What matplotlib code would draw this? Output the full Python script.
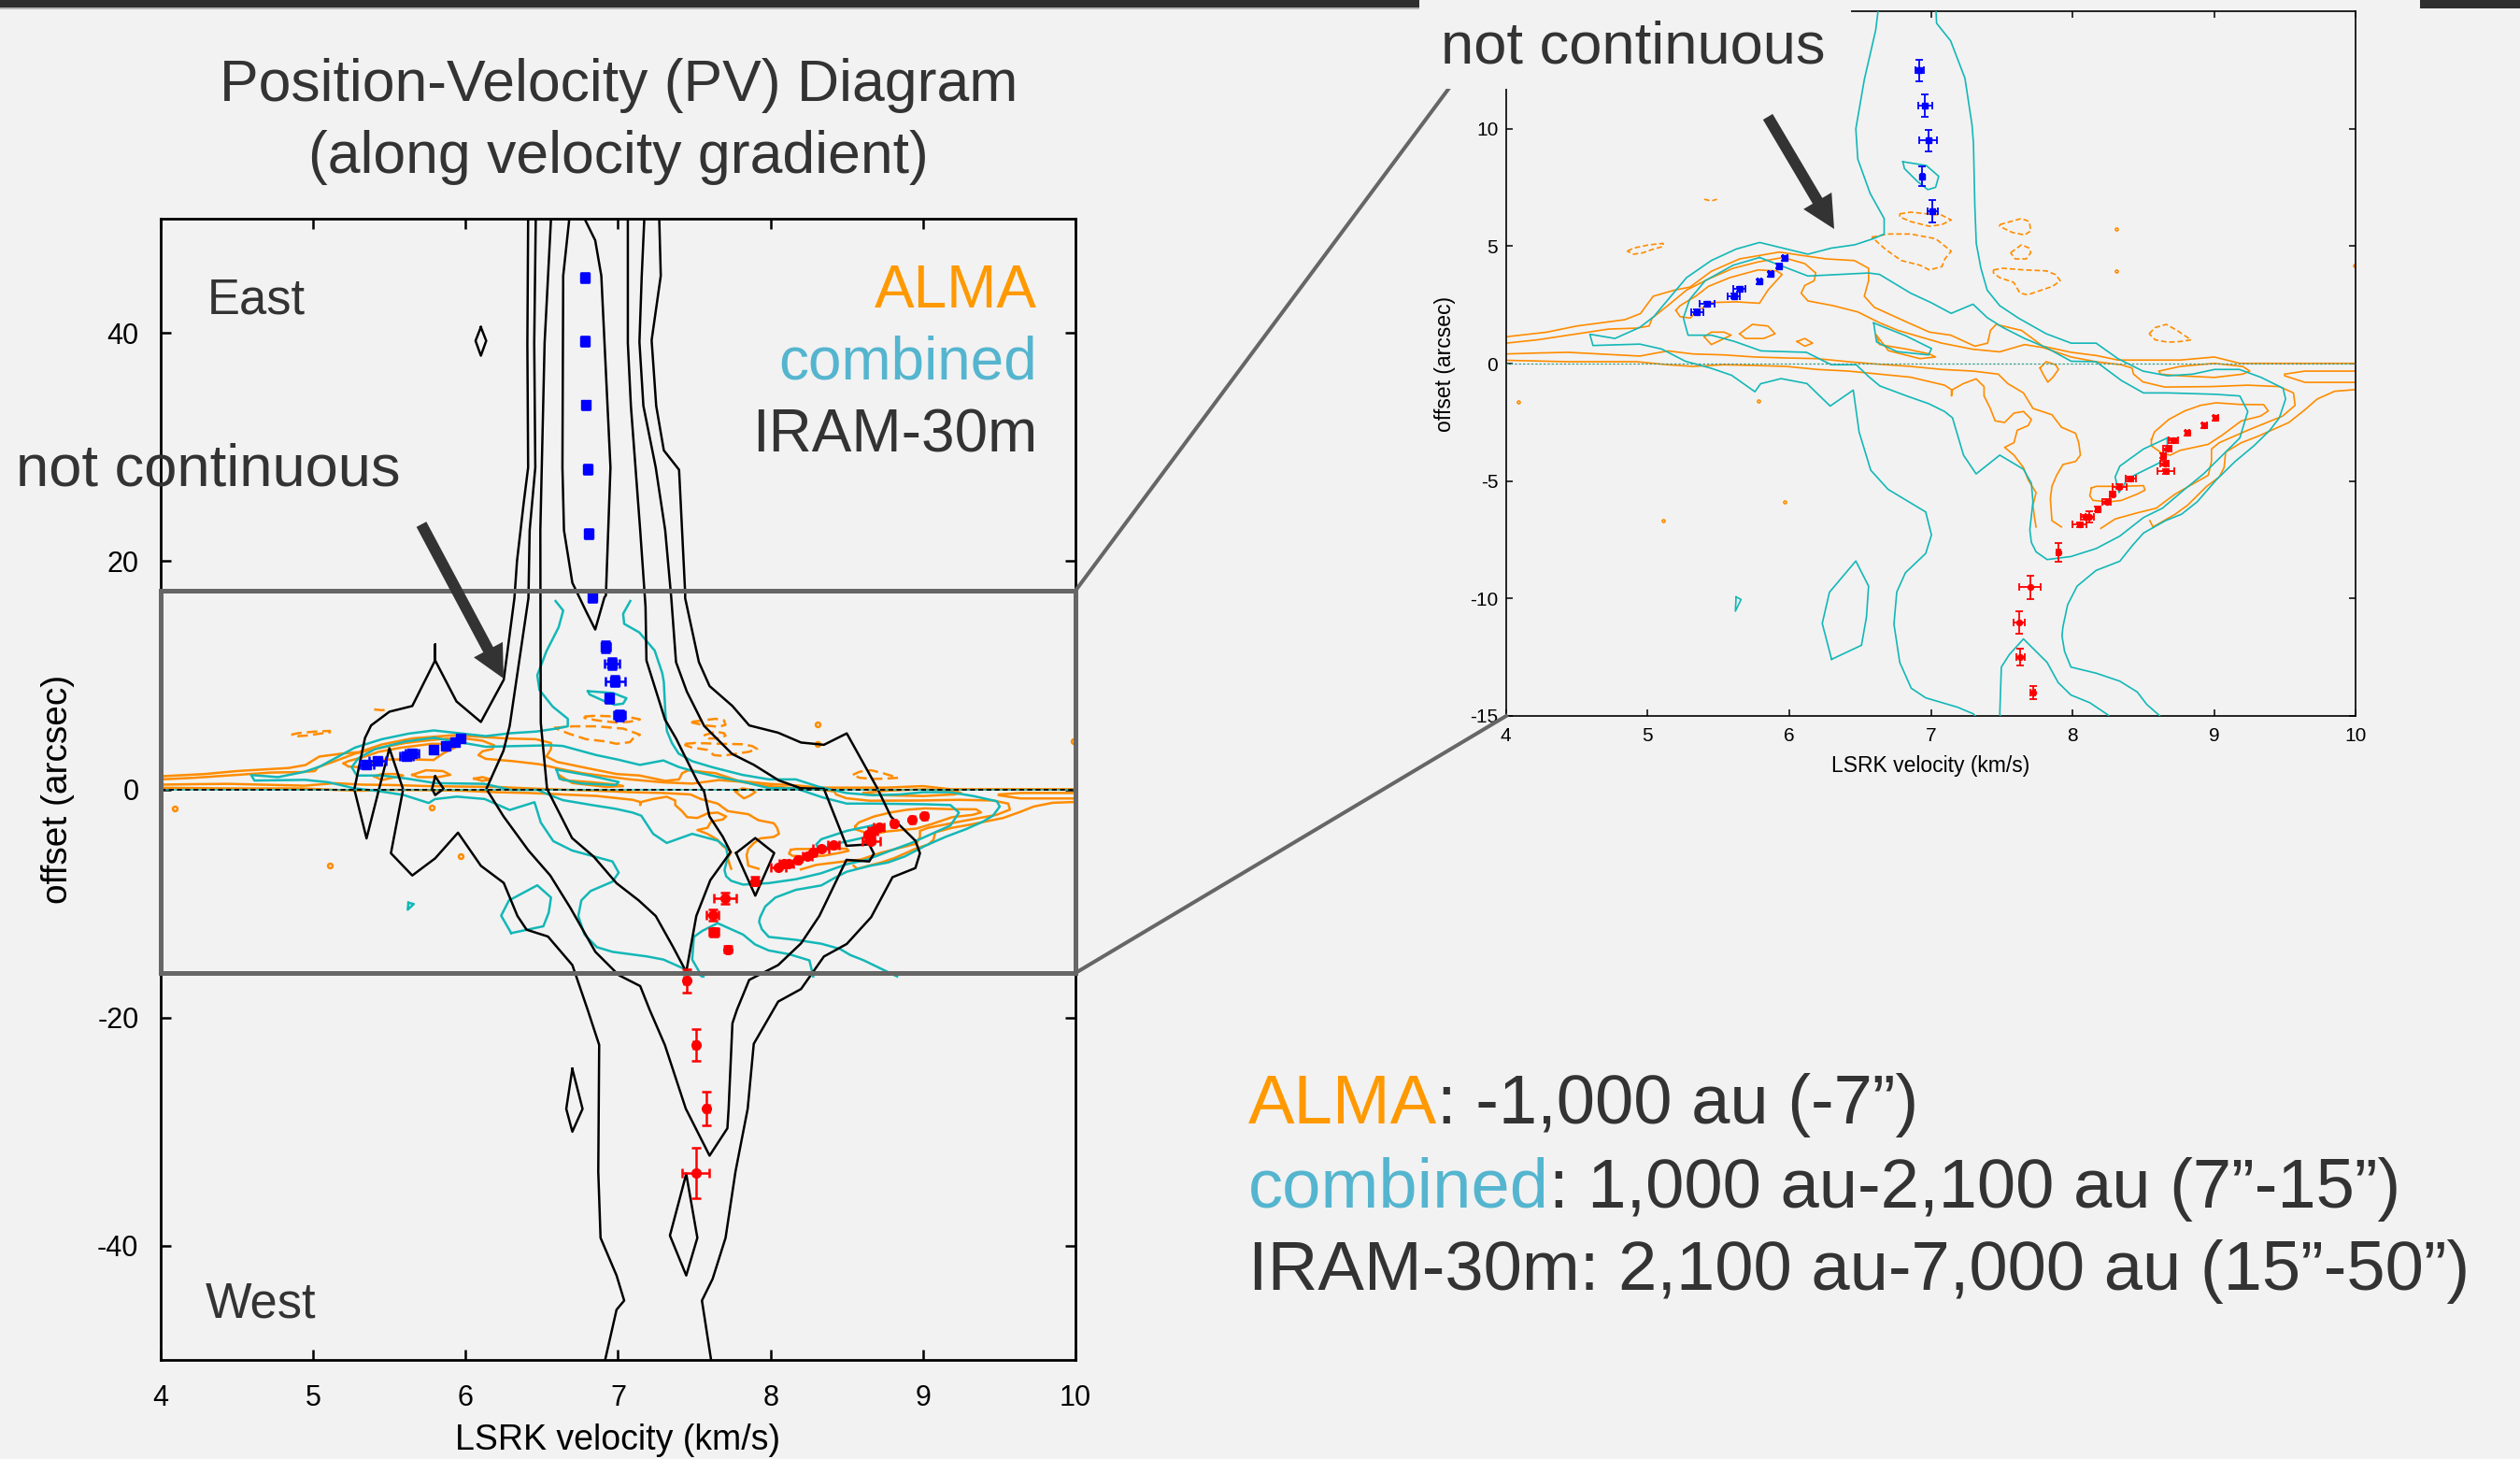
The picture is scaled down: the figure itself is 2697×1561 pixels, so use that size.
import matplotlib
matplotlib.use("Agg")
import matplotlib.pyplot as plt
from matplotlib.patches import Rectangle, FancyArrow
from matplotlib.lines import Line2D
from matplotlib.text import Annotation

plt.rcParams['font.family'] = ['Liberation Sans', 'DejaVu Sans']
plt.rcParams['axes.unicode_minus'] = False

# ---- data, points are (LSRK velocity km/s, offset arcsec) ----

# IRAM-30m contours (black, left panel only)
iram_outer_left = [(6.41, 50), (6.405, 39), (6.41, 28.2), (6.38, 25), (6.337, 20), (6.32, 16.75), (6.25, 9.6),
                   (6.10, 5.9), (5.94, 7.7), (5.80, 11.3), (5.80, 12.7), (5.80, 11.3), (5.65, 7.3), (5.50, 6.8),
                   (5.38, 5.6), (5.34, 4.5), (5.27, 0.0), (5.35, -4.3), (5.50, 3.6), (5.59, 0.0), (5.51, -5.6),
                   (5.65, -7.55), (5.80, -6.05), (5.95, -3.8), (6.10, -6.7), (6.25, -8.2), (6.34, -11.1),
                   (6.40, -12.3), (6.54, -12.9), (6.70, -15.4), (6.80, -19.3), (6.876, -22.4), (6.87, -33.5),
                   (6.885, -39.3), (6.99, -42.6), (7.04, -44.8), (6.99, -45.6), (6.915, -50)]
iram_outer_right = [(7.61, -50), (7.55, -44.8), (7.62, -42.9), (7.705, -39.3), (7.77, -33.5), (7.85, -28.0),
                    (7.89, -22.3), (8.05, -18.6), (8.20, -17.5), (8.35, -14.65), (8.50, -13.55), (8.66, -11.2),
                    (8.80, -7.7), (8.95, -6.9), (8.98, -5.6), (8.95, -4.5), (8.79, -2.4), (8.70, 0.1), (8.50, 4.9),
                    (8.35, 3.9), (8.20, 4.1), (8.05, 4.96), (7.86, 5.6), (7.75, 7.3), (7.60, 9.05), (7.53, 11.15),
                    (7.44, 16.75), (7.44, 17.2), (7.40, 28.0), (7.30, 29.7), (7.25, 33.6), (7.22, 39.35),
                    (7.28, 45), (7.27, 50)]
iram_level2 = [(6.46, 50), (6.45, 39.1), (6.457, 28.2), (6.42, 22.7), (6.412, 16.75), (6.289, 5.56), (6.248, 3.37),
               (6.136, 0.04), (6.248, -2.36), (6.412, -5.36), (6.555, -7.55), (6.688, -10.41), (6.851, -14.24),
               (7.004, -16.28), (7.145, -17.24), (7.206, -19.29), (7.307, -22.41), (7.444, -27.98), (7.60, -32.1),
               (7.717, -29.7), (7.725, -28.0), (7.75, -20.5), (7.78, -19.3), (7.86, -16.7), (8.05, -15.4),
               (8.2, -13.5), (8.32, -11.1), (8.498, -6.18), (8.647, -6.32), (8.678, -5.64), (8.647, -4.82),
               (8.498, -4.95), (8.35, 0.04), (8.197, 0.10), (8.054, 0.78), (7.891, 2.14), (7.748, 3.1),
               (7.564, 5.56), (7.451, 8.56), (7.38, 11.15), (7.349, 16.75), (7.309, 22.7), (7.247, 28.2),
               (7.166, 33.6), (7.14, 39.2), (7.155, 44.95), (7.172, 50)]
iram_level3 = [(6.56, 50), (6.518, 39.1), (6.49, 22.7), (6.491, 15.6), (6.493, 5.83), (6.534, 0.04), (6.698, -4.27),
               (6.841, -5.91), (6.99, -8.23), (7.135, -9.73), (7.247, -11.1), (7.36, -13.8), (7.447, -16.0),
               (7.513, -11.1), (7.605, -7.96), (7.738, -5.5), (7.686, -4.14), (7.599, -2.36), (7.564, -0.18),
               (7.523, 0.64), (7.451, 2.55), (7.38, 4.46), (7.308, 6.1), (7.186, 11.29), (7.18, 16.0),
               (7.145, 22.7), (7.084, 33.6), (7.064, 39.1), (7.064, 50)]
iram_level4 = [(6.68, 50), (6.64, 45), (6.635, 28.2), (6.645, 22.7), (6.70, 18.1), (6.79, 15.6), (6.85, 14.0),
               (6.91, 16.8), (6.92, 17.0), (6.95, 28.2), (6.89, 45), (6.85, 48.1), (6.78, 50)]
iram_islands = [
    [(6.10, 40.5), (6.135, 39.3), (6.10, 38.0), (6.065, 39.3), (6.10, 40.5)],
    [(5.80, 1.13), (5.856, 0.04), (5.80, -0.5), (5.78, 0.04), (5.80, 1.13)],
    [(7.774, -5.58), (7.90, -4.27), (8.024, -5.58), (7.90, -9.32), (7.774, -5.58)],
    [(6.70, -24.5), (6.767, -28.0), (6.70, -30.0), (6.66, -28.0), (6.70, -24.5)],
    [(7.447, -33.7), (7.52, -39.3), (7.447, -42.6), (7.34, -39.1), (7.447, -33.7)],
]
iram_lines = [iram_outer_left, iram_outer_right, iram_level2, iram_level3, iram_level4] + iram_islands

# combined (ALMA + IRAM) contours (teal)
comb_outer_left = [(6.59, 16.5), (6.64, 15.66), (6.61, 14.2), (6.53, 12.1), (6.47, 10.0), (6.484, 8.71),
                   (6.571, 7.25), (6.67, 6.18), (6.67, 5.52), (6.593, 5.32), (6.462, 5.06), (6.297, 4.92),
                   (6.132, 4.66), (5.791, 5.16), (5.626, 4.88), (5.45, 4.39), (5.275, 3.66), (5.165, 2.87),
                   (5.044, 2.0), (4.945, 1.54), (4.77, 1.07), (4.593, 1.25), (4.615, 0.77), (4.945, 0.83),
                   (5.10, 0.62), (5.267, 0.1), (5.45, -0.2), (5.594, -0.5), (5.758, -1.2), (5.798, -0.86),
                   (5.942, -0.64), (6.125, -0.85), (6.289, -1.81), (6.452, -1.13), (6.493, -2.91), (6.575, -4.54),
                   (6.698, -5.36), (6.963, -6.32), (7.004, -7.3), (6.963, -8.09), (6.82, -8.91), (6.759, -9.73),
                   (6.739, -11.1), (6.78, -12.73), (6.861, -13.83), (6.963, -14.24), (7.188, -14.64),
                   (7.298, -14.92), (7.462, -15.9), (7.56, -16.4)]
comb_outer_right = [(7.08, 16.5), (7.033, 15.38), (7.04, 14.5), (7.139, 13.75), (7.24, 12.16), (7.29, 10.17),
                    (7.30, 9.4), (7.31, 6.7), (7.32, 5.12), (7.353, 4.06), (7.397, 3.13), (7.485, 2.47),
                    (7.617, 1.94), (7.814, 1.27), (7.99, 0.87), (8.166, 0.87), (8.32, 0.21), (8.496, -0.32),
                    (8.672, -0.52), (8.847, -0.45), (9.001, -0.25), (9.177, -0.25), (9.331, -0.59), (9.485, -1.05),
                    (9.503, -1.51), (9.459, -2.31), (9.392, -2.84), (9.28, -3.5), (9.147, -4.17), (9.013, -4.96),
                    (8.879, -5.89), (8.768, -6.42), (8.656, -6.69), (8.5, -7.22), (8.422, -7.75), (8.333, -8.42),
                    (8.166, -8.81), (8.032, -9.48), (7.965, -10.27), (7.932, -11.2), (7.925, -11.6),
                    (7.943, -12.26), (7.988, -12.93), (8.166, -13.19), (8.333, -13.53), (8.456, -13.99),
                    (8.523, -14.52), (8.612, -14.99), (8.83, -16.4)]
comb_inner = [(5.791, 4.52), (6.132, 3.73), (6.56, 3.86), (6.637, 3.8), (6.857, 3.0), (7.0, 2.6), (7.143, 2.14),
              (7.297, 2.53), (7.397, 1.96), (7.507, 1.54), (7.661, 1.07), (7.814, 0.68), (7.99, 0.1), (8.166, 0.08),
              (8.344, -0.72), (8.5, -1.25), (8.679, -1.25), (9.013, -1.31), (9.18, -1.38), (9.236, -2.04),
              (9.18, -3.17), (9.058, -3.9), (8.924, -4.7), (8.79, -5.36), (8.634, -6.16), (8.5, -6.56),
              (8.333, -7.35), (8.166, -7.88), (7.988, -8.22), (7.82, -8.35), (7.742, -8.02), (7.709, -7.62),
              (7.698, -7.09), (7.72, -5.89), (7.709, -5.1), (7.653, -4.5), (7.486, -3.9), (7.319, -4.7),
              (7.23, -3.9), (7.152, -2.31), (7.096, -2.04), (6.985, -1.71), (6.829, -1.38), (6.639, -0.95),
              (6.56, -0.55), (6.473, -0.05), (6.297, -0.05), (6.121, 0.48), (5.802, 0.54), (5.615, 0.94),
              (5.451, 1.21), (5.286, 1.21), (5.253, 1.94), (5.297, 2.73), (5.407, 3.53), (5.604, 4.19),
              (5.791, 4.52)]
comb_bottom_cap = [(7.55, -16.4), (7.486, -14.92), (7.497, -12.93), (7.553, -12.4), (7.653, -11.73), (7.82, -12.73),
                   (7.898, -13.59), (7.988, -14.12), (8.122, -14.45), (8.255, -14.99), (8.28, -16.4)]
comb_islands = [
    [(6.299, -12.6), (6.233, -11.07), (6.284, -9.74), (6.47, -8.41), (6.56, -9.48), (6.545, -10.8), (6.51, -12.0),
     (6.299, -12.6)],
    [(6.802, 8.6), (6.967, 8.44), (7.055, 7.98), (7.033, 7.51), (6.978, 7.41), (6.901, 7.78), (6.813, 8.31),
     (6.802, 8.6)],
    [(6.596, 1.73), (6.616, 0.92), (6.76, 0.51), (6.984, 0.37), (7.004, 0.64), (6.82, 1.19), (6.596, 1.73)],
    [(5.625, -9.94), (5.66, -10.05), (5.62, -10.55), (5.625, -9.94)],
    [(8.668, -3.17), (8.5, -3.64), (8.333, -4.37), (8.3, -4.83), (8.327, -5.5), (8.389, -4.9), (8.478, -4.63),
     (8.612, -4.23), (8.668, -3.64), (8.668, -3.17)],
]
comb_lines = [comb_outer_left, comb_outer_right, comb_inner, comb_bottom_cap] + comb_islands

# ALMA contours (orange), positive levels
alma_top = [(4.0, 1.14), (4.29, 1.34), (4.5, 1.6), (4.84, 1.87), (4.95, 2.13), (5.04, 2.87), (5.19, 3.13),
            (5.30, 3.26), (5.45, 3.93), (5.65, 4.46), (5.93, 4.75), (6.11, 4.59), (6.26, 4.46), (6.46, 4.39),
            (6.56, 4.06), (6.56, 3.53), (6.53, 2.87), (6.60, 2.4), (6.84, 1.74), (6.99, 1.34), (7.14, 1.21),
            (7.31, 0.74), (7.40, 0.87), (7.42, 1.41), (7.46, 1.67), (7.64, 1.41), (7.79, 0.74), (7.99, 0.48),
            (8.17, 0.34), (8.32, 0.15), (8.76, 0.15), (9.0, 0.28), (9.18, 0.01), (10.0, 0.01)]
alma_second = [(4.0, 0.87), (4.22, 1.01), (4.44, 1.21), (4.725, 1.47), (4.923, 1.51), (5.011, 1.6), (5.033, 1.94),
               (5.143, 2.47), (5.275, 3.13), (5.429, 3.6), (5.604, 4.06), (5.78, 4.33), (5.956, 4.52),
               (6.11, 4.26), (6.187, 3.86), (6.176, 3.53), (6.11, 3.33), (6.084, 3.0), (6.132, 2.67),
               (6.308, 2.47), (6.484, 2.2), (6.637, 1.74), (6.769, 1.41), (6.923, 1.14), (7.077, 0.87),
               (7.297, 0.61), (7.485, 0.5), (7.661, 0.81), (7.792, 0.68), (7.99, 0.28), (8.166, 0.08),
               (8.342, -0.05), (8.419, -0.19), (8.43, -0.45), (8.496, -0.78), (8.65, -1.0), (8.98, -0.98),
               (9.237, -0.92), (9.459, -0.98), (9.559, -1.25), (9.57, -1.78), (9.481, -2.24), (9.236, -2.84),
               (9.035, -3.37), (8.98, -3.64), (8.98, -4.17), (8.957, -4.76), (8.857, -5.1), (8.723, -5.56),
               (8.59, -6.16), (8.456, -6.36), (8.3, -6.62), (8.199, -7.02)]
alma_mid_upper = [(4.0, 0.41), (4.22, 0.45), (4.44, 0.48), (4.66, 0.41), (4.945, 0.32), (5.143, 0.54),
                  (5.319, 0.41), (5.538, 0.37), (5.758, 0.28), (5.978, 0.24), (6.198, 0.21), (6.418, 0.08),
                  (6.637, -0.03), (6.857, -0.12), (7.077, -0.25), (7.297, -0.32), (7.475, -0.45), (7.542, -0.85),
                  (7.653, -1.25), (7.72, -1.91), (7.854, -2.18), (7.921, -2.71), (8.021, -2.97), (8.043, -3.37),
                  (8.055, -3.9), (8.021, -4.17), (7.932, -4.3), (7.887, -4.76), (7.854, -5.23), (7.843, -5.76),
                  (7.854, -6.69), (7.921, -6.96)]
alma_mid_lower = [(4.0, 0.14), (4.44, 0.08), (4.923, 0.08), (5.143, -0.05), (5.319, -0.12), (5.538, -0.05),
                  (5.758, -0.08), (5.978, -0.12), (6.198, -0.25), (6.418, -0.32), (6.637, -0.45), (6.857, -0.58),
                  (7.096, -0.92), (7.145, -1.11), (7.145, -1.38), (7.152, -1.11), (7.23, -0.85), (7.319, -0.65),
                  (7.375, -0.98), (7.375, -1.38), (7.419, -1.91), (7.453, -2.44), (7.52, -2.51), (7.586, -2.11),
                  (7.653, -2.04), (7.709, -2.38), (7.687, -2.64), (7.609, -2.84), (7.586, -3.37), (7.52, -3.57),
                  (7.586, -3.9), (7.653, -4.43), (7.687, -4.96), (7.742, -5.5), (7.72, -6.03), (7.731, -6.56),
                  (7.742, -6.96)]
alma_red_lobe = [(8.545, -6.69), (8.567, -6.96), (8.723, -6.42), (8.812, -6.03), (8.946, -5.23), (9.035, -4.83),
                 (9.069, -4.43), (9.08, -3.77), (9.191, -3.37), (9.303, -3.11), (9.526, -2.51), (9.637, -1.98),
                 (9.726, -1.51), (9.849, -1.18), (9.994, -1.11), (10.0, -1.11)]
alma_islands = [
    [(5.20, 2.27), (5.23, 2.0), (5.30, 1.94), (5.36, 2.27), (5.45, 2.6), (5.63, 2.63), (5.79, 2.57), (5.85, 3.13),
     (5.95, 3.8), (5.91, 3.95), (5.78, 3.99), (5.58, 3.66), (5.43, 3.29), (5.34, 2.87), (5.23, 2.47), (5.20, 2.27)],
    [(5.40, 1.14), (5.45, 0.81), (5.59, 1.21), (5.54, 1.34), (5.45, 1.34), (5.40, 1.14)],
    [(5.65, 1.27), (5.74, 1.67), (5.85, 1.6), (5.90, 1.27), (5.82, 1.07), (5.69, 1.07), (5.65, 1.27)],
    [(6.055, 0.94), (6.11, 1.07), (6.165, 0.87), (6.11, 0.74), (6.055, 0.94)],
    [(6.615, 1.21), (6.637, 0.81), (6.835, 0.61), (6.989, 0.41), (7.033, 0.28), (6.923, 0.21), (6.7, 0.55),
     (6.615, 1.21)],
    [(7.77, -0.19), (7.814, 0.08), (7.88, -0.05), (7.90, -0.25), (7.86, -0.59), (7.825, -0.79), (7.792, -0.45),
     (7.77, -0.19)],
    [(8.61, -0.32), (8.76, -0.12), (9.0, 0.01), (9.2, -0.12), (9.25, -0.32), (9.2, -0.45), (9.0, -0.59),
     (8.76, -0.52), (8.62, -0.45), (8.61, -0.32)],
    [(10.0, -0.32), (9.64, -0.32), (9.496, -0.45), (9.496, -0.52), (9.64, -0.8), (10.0, -0.8)],
    [(8.556, -3.24), (8.578, -2.91), (8.679, -2.38), (8.79, -2.02), (8.902, -1.78), (9.013, -1.67), (9.18, -1.74),
     (9.348, -1.75), (9.381, -2.02), (9.325, -2.24), (9.191, -2.44), (9.058, -3.04), (8.957, -3.44),
     (8.857, -3.57), (8.757, -3.7), (8.69, -3.9), (8.634, -3.84), (8.556, -3.5), (8.556, -3.24)],
    [(8.133, -5.3), (8.166, -5.23), (8.344, -5.23), (8.5, -5.2), (8.511, -5.39), (8.456, -5.56), (8.344, -5.83),
     (8.255, -5.89), (8.144, -5.83), (8.121, -5.63), (8.133, -5.3)],
]
alma_lines = [alma_top, alma_second, alma_mid_upper, alma_mid_lower, alma_red_lobe] + alma_islands
alma_specks = [(4.09, -1.65), (5.78, -1.58), (5.97, -5.89), (5.11, -6.69)]

# ALMA negative levels (dashed orange)
alma_neg = [
    [(4.857, 4.79), (4.901, 4.92), (5.011, 5.06), (5.11, 5.12), (5.11, 4.99), (5.033, 4.86), (4.967, 4.72),
     (4.901, 4.66), (4.857, 4.79)],
    [(5.40, 7.0), (5.45, 6.93), (5.49, 7.0)],
    [(6.78, 6.38), (6.857, 6.45), (7.077, 6.32), (7.143, 6.12), (7.077, 5.92), (6.989, 5.85), (6.857, 6.05),
     (6.78, 6.25), (6.78, 6.38)],
    [(6.582, 5.39), (6.703, 5.52), (6.857, 5.52), (7.033, 5.32), (7.143, 4.79), (7.099, 4.46), (7.077, 4.13),
     (6.989, 3.99), (6.923, 4.19), (6.791, 4.39), (6.681, 4.86), (6.582, 5.39)],
    [(7.485, 5.92), (7.639, 6.18), (7.694, 6.05), (7.705, 5.65), (7.661, 5.48), (7.573, 5.59), (7.485, 5.85),
     (7.485, 5.92)],
    [(7.562, 4.72), (7.639, 5.06), (7.694, 4.92), (7.705, 4.72), (7.672, 4.46), (7.595, 4.46), (7.562, 4.72)],
    [(7.441, 3.99), (7.507, 4.06), (7.661, 3.99), (7.814, 3.95), (7.88, 3.79), (7.913, 3.53), (7.858, 3.29),
     (7.683, 2.93), (7.628, 3.0), (7.584, 3.46), (7.485, 3.66), (7.441, 3.86), (7.441, 3.99)],
    [(8.54, 1.27), (8.584, 1.54), (8.661, 1.67), (8.738, 1.41), (8.836, 1.01), (8.76, 0.94), (8.672, 0.91),
     (8.584, 1.01), (8.54, 1.27)],
]
alma_neg_specks = [(8.31, 5.72), (8.31, 3.96), (9.99, 4.2)]

# peak positions with errors (blue: blueshifted side, red: redshifted side)
blue_v = [5.35, 5.42, 5.61, 5.65, 5.79, 5.87, 5.93, 5.97, 7.01, 6.94, 6.98, 6.96, 6.92, 6.83, 6.81, 6.80, 6.79,
          6.78, 6.78]
blue_off = [2.20, 2.53, 2.87, 3.18, 3.50, 3.82, 4.15, 4.49, 6.49, 7.98, 9.50, 10.99, 12.49, 16.83, 22.43, 28.08,
            33.67, 39.27, 44.87]
blue_verr = [0.045, 0.055, 0.042, 0.042, 0.015, 0.015, 0.015, 0.015, 0.036, 0.01, 0.064, 0.05, 0.03, 0.02, 0.02,
             0.02, 0.02, 0.02, 0.02]
blue_oerr = [0.1, 0.1, 0.1, 0.1, 0.1, 0.1, 0.1, 0.1, 0.47, 0.42, 0.45, 0.48, 0.46, 0.4, 0.4, 0.4, 0.4, 0.4, 0.4]

red_v = [9.01, 8.93, 8.81, 8.71, 8.67, 8.64, 8.65, 8.66, 8.41, 8.33, 8.28, 8.24, 8.18, 8.12, 8.09, 8.05, 7.90,
         7.70, 7.62, 7.63, 7.72, 7.45, 7.51, 7.58, 7.51]
red_off = [-2.31, -2.64, -2.96, -3.28, -3.61, -3.94, -4.26, -4.58, -4.91, -5.24, -5.56, -5.89, -6.21, -6.53, -6.55,
           -6.86, -8.03, -9.53, -11.03, -12.52, -14.02, -16.78, -22.41, -27.98, -33.6]
red_verr = [0.015, 0.015, 0.015, 0.034, 0.03, 0.015, 0.03, 0.058, 0.037, 0.05, 0.015, 0.03, 0.015, 0.03, 0.03,
            0.05, 0.015, 0.074, 0.04, 0.03, 0.015, 0.015, 0.015, 0.015, 0.09]
red_oerr = [0.1, 0.1, 0.1, 0.1, 0.1, 0.1, 0.1, 0.1, 0.1, 0.1, 0.1, 0.1, 0.1, 0.25, 0.1, 0.1, 0.4, 0.5, 0.48, 0.36,
            0.29, 1.0, 1.4, 1.5, 2.2]

# ---- styling ----
W, H = 2697, 1561
BG = '#f2f2f2'
DARK = '#333333'
ORANGE = '#ff8c00'
TEAL = '#14b7b7'
ALMA_TXT = '#ff9900'
COMB_TXT = '#55b5cf'
FRAME = '#666666'


def fxy(px, py):
    return px / W, 1 - py / H


fig = plt.figure(figsize=(W / 100, H / 100), dpi=100, facecolor=BG)

axL = fig.add_axes([172 / W, 1 - 1455 / H, 979 / W, 1221 / H], facecolor=BG)
axR = fig.add_axes([1611.6 / W, 1 - 765.7 / H, 909.9 / W, 753.4 / H], facecolor=BG)


def draw_panel(ax, lw, ms, elw, cap, dash, with_iram):
    for pts in alma_lines:
        v, o = zip(*pts)
        ax.plot(v, o, color=ORANGE, lw=lw, zorder=2)
    for pts in alma_neg:
        v, o = zip(*pts)
        ax.plot(v, o, color=ORANGE, lw=lw, ls=(0, dash), zorder=2)
    sv, so = zip(*alma_specks)
    ax.plot(sv, so, ls='none', marker='o', ms=ms * 0.5, mfc='none', mec=ORANGE, mew=lw, zorder=2)
    nv, no = zip(*alma_neg_specks)
    ax.plot(nv, no, ls='none', marker='o', ms=ms * 0.5, mfc='none', mec=ORANGE, mew=lw, zorder=2)
    for pts in comb_lines:
        v, o = zip(*pts)
        ax.plot(v, o, color=TEAL, lw=lw, zorder=3)
    if with_iram:
        for pts in iram_lines:
            v, o = zip(*pts)
            ax.plot(v, o, color='black', lw=lw, zorder=4)
        ax.axhline(0, color=TEAL, lw=lw * 0.6, zorder=4)
        ax.axhline(0, color='black', lw=lw * 0.7, ls=(0, (3, 2)), zorder=4)
    else:
        ax.axhline(0, color='#3a9e8c', lw=0.9, ls=(0, (2, 1.5)), zorder=4)
    ax.errorbar(blue_v, blue_off, xerr=blue_verr, yerr=blue_oerr, fmt='s', color='#0000ff', ms=ms,
                elinewidth=elw, capsize=cap, capthick=elw, zorder=6)
    ax.errorbar(red_v, red_off, xerr=red_verr, yerr=red_oerr, fmt='o', color='#ff0000', ms=ms,
                elinewidth=elw, capsize=cap, capthick=elw, zorder=6)


draw_panel(axL, 1.8, 7.0, 1.8, 3.8, (4.5, 2.2), True)
draw_panel(axR, 1.2, 4.3, 1.3, 2.6, (3.5, 1.8), False)

# left panel axes
axL.set_xlim(4, 10)
axL.set_ylim(-50, 50)
axL.set_xticks(range(4, 11))
axL.set_yticks([-40, -20, 0, 20, 40])
axL.tick_params(direction='in', top=True, right=True, length=8, width=1.8, labelsize=22, colors='black')
axL.tick_params(axis='x', pad=19)
axL.tick_params(axis='y', pad=17)
for s in axL.spines.values():
    s.set_linewidth(2.0)
axL.set_xlabel('LSRK velocity (km/s)', fontsize=27)
axL.set_ylabel('offset (arcsec)', fontsize=28)
axL.xaxis.set_label_coords(0.5, -(1523 - 1455) / 1221)
axL.yaxis.set_label_coords(-(172 - 80) / 979, 0.5)

# right (zoomed) panel axes
axR.set_xlim(4, 10)
axR.set_ylim(-15, 15)
axR.set_xticks(range(4, 11))
axR.set_yticks([-15, -10, -5, 0, 5, 10])
axR.tick_params(direction='in', top=True, right=True, length=5, width=1.1, labelsize=15)
axR.tick_params(axis='x', pad=9)
axR.tick_params(axis='y', pad=6)
for s in axR.spines.values():
    s.set_linewidth(1.2)
axR.set_xlabel('LSRK velocity (km/s)', fontsize=16.5)
axR.set_ylabel('offset (arcsec)', fontsize=16.5)
axR.xaxis.set_label_coords(0.5, -(808 - 765.7) / 753.4)
axR.yaxis.set_label_coords(-(1611.6 - 1558) / 909.9, 0.5)

# zoom box on the left panel and the connectors to the right panel
axL.add_patch(Rectangle((4, -16.12), 6, 33.55, fill=False, ec=FRAME, lw=3.6, clip_on=False, zorder=7))
for (x0, y0), (x1, y1) in [((1151, 632), (1612, 12)), ((1151, 1041), (1612, 766))]:
    a, b = fxy(x0, y0)
    c, d = fxy(x1, y1)
    fig.add_artist(Line2D([a, c], [b, d], color=FRAME, lw=2.9, zorder=1))

# slide header bar
fig.add_artist(Rectangle(fxy(0, 8.5), 1519 / W, 8.5 / H, fc='#2f2f2f', ec='none', zorder=1))
fig.add_artist(Rectangle(fxy(0, 10), 1519 / W, 1.5 / H, fc='#b5b5b5', ec='none', zorder=1))
fig.add_artist(Rectangle(fxy(2590, 8.5), (W - 2590) / W, 8.5 / H, fc='#2f2f2f', ec='none', zorder=1))
# label box that hides the top-left corner of the zoomed panel
fig.add_artist(Rectangle(fxy(1519, 95), 462 / W, 95 / H, fc=BG, ec='none', zorder=10))

# texts
fig.text(*fxy(662, 108), 'Position-Velocity (PV) Diagram', ha='center', va='baseline', fontsize=45, color=DARK)
fig.text(*fxy(662, 185), '(along velocity gradient)', ha='center', va='baseline', fontsize=45, color=DARK)
fig.text(*fxy(222, 335), 'East', ha='left', va='baseline', fontsize=37.8, color=DARK)
fig.text(*fxy(220, 1410), 'West', ha='left', va='baseline', fontsize=37.8, color=DARK)
fig.text(*fxy(1110, 329), 'ALMA', ha='right', va='baseline', fontsize=46, color=ALMA_TXT)
fig.text(*fxy(1110, 406), 'combined', ha='right', va='baseline', fontsize=46, color=COMB_TXT)
fig.text(*fxy(1110, 484), 'IRAM-30m', ha='right', va='baseline', fontsize=46, color=DARK)
fig.text(*fxy(17, 520), 'not continuous', ha='left', va='baseline', fontsize=45.5, color=DARK)
fig.text(*fxy(1542, 68), 'not continuous', ha='left', va='baseline', fontsize=45.5, color=DARK, zorder=11)

# arrows (in inches from the lower-left corner)
for (x0, y0), (x1, y1) in [((451, 561), (539, 726)), ((1892, 125), (1963, 245))]:
    fig.add_artist(FancyArrow(x0 / 100, (H - y0) / 100, (x1 - x0) / 100, (y0 - y1) / 100, width=0.12,
                              head_width=0.35, head_length=0.35, length_includes_head=True,
                              fc=DARK, ec='none', transform=fig.dpi_scale_trans, zorder=12))


def two_tone(px, py, head, tail, head_color, size):
    t = fig.text(*fxy(px, py), head, ha='left', va='baseline', fontsize=size, color=head_color)
    fig.add_artist(Annotation(tail, xy=(1, 0), xycoords=t, ha='left', va='bottom', fontsize=size, color=DARK))


two_tone(1336, 1202, 'ALMA', ': -1,000 au (-7\u201d)', ALMA_TXT, 53.5)
two_tone(1336, 1292, 'combined', ': 1,000 au-2,100 au (7\u201d-15\u201d)', COMB_TXT, 53.5)
fig.text(*fxy(1336, 1380), 'IRAM-30m: 2,100 au-7,000 au (15\u201d-50\u201d)', ha='left', va='baseline',
         fontsize=53.5, color=DARK)

fig.savefig('out.png', dpi=100, facecolor=BG)
